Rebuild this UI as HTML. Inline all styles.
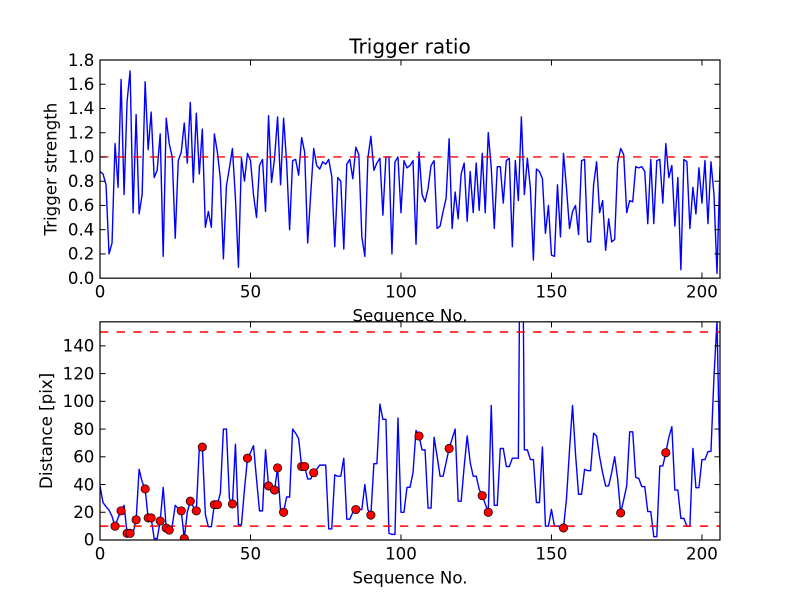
<!DOCTYPE html>
<html>
<head>
<meta charset="utf-8">
<style>
html,body{margin:0;padding:0;background:#fff;}
svg{display:block;}
text{font-family:"DejaVu Sans","Liberation Sans",sans-serif;fill:#000;}
.tl{font-size:16.67px;}
</style>
</head>
<body>
<svg width="800" height="600" viewBox="0 0 800 600" xmlns="http://www.w3.org/2000/svg">
<defs>
<clipPath id="c1"><rect x="100" y="60" width="620" height="218.18"/></clipPath>
<clipPath id="c2"><rect x="100" y="321.82" width="620" height="218.18"/></clipPath>
</defs>
<rect x="0" y="0" width="800" height="600" fill="#fff"/>

<!-- ===== TOP AXES ===== -->
<text x="410" y="53.3" font-size="20" text-anchor="middle">Trigger ratio</text>
<rect x="100" y="60" width="620" height="218.18" fill="#fff"/>
<g clip-path="url(#c1)">
<g transform="translate(100,278.18) scale(3.00971,-121.21)">
<polyline fill="none" stroke="#0000ff" stroke-width="1.4" vector-effect="non-scaling-stroke" stroke-linejoin="round" points="0,0.88 1,0.86 2,0.77 3,0.20 4,0.29 5,1.11 6,0.75 7,1.64 8,0.69 9,1.46 10,1.71 11,0.54 12,1.35 13,0.53 14,0.69 15,1.62 16,1.06 17,1.37 18,0.83 19,0.89 20,1.19 21,0.18 22,1.32 23,1.11 24,1.00 25,0.33 26,0.97 27,1.04 28,1.28 29,0.95 30,1.45 31,0.79 32,1.36 33,0.86 34,1.23 35,0.42 36,0.55 37,0.42 38,1.19 39,1.04 40,0.82 41,0.16 42,0.76 43,0.91 44,1.07 45,0.66 46,0.09 47,0.99 48,0.80 49,1.03 50,0.97 51,0.69 52,0.50 53,0.93 54,0.98 55,0.55 56,1.34 57,0.79 58,0.99 59,1.33 60,0.77 61,1.32 62,0.96 63,0.40 64,0.97 65,0.98 66,0.85 67,1.16 68,1.04 69,0.29 70,0.69 71,1.07 72,0.93 73,0.90 74,0.96 75,0.94 76,0.98 77,0.84 78,0.26 79,0.83 80,0.80 81,0.24 82,0.94 83,0.98 84,0.82 85,1.08 86,1.02 87,0.34 88,0.18 89,0.99 90,1.17 91,0.89 92,0.95 93,0.99 94,0.52 95,1.00 96,1.00 97,0.20 98,0.96 99,1.00 100,0.54 101,0.97 102,0.91 103,0.93 104,0.97 105,0.28 106,1.04 107,0.69 108,0.63 109,0.74 110,0.93 111,0.97 112,0.41 113,0.43 114,0.55 115,0.66 116,1.15 117,0.41 118,0.71 119,0.49 120,0.86 121,0.95 122,0.47 123,0.88 124,0.54 125,0.95 126,0.56 127,1.03 128,0.54 129,1.20 130,0.91 131,0.41 132,0.92 133,0.92 134,0.62 135,0.97 136,0.99 137,0.26 138,0.97 139,0.64 140,1.33 141,0.69 142,0.99 143,0.74 144,0.15 145,0.90 146,0.88 147,0.82 148,0.37 149,0.60 150,0.19 151,0.18 152,0.77 153,0.34 154,1.03 155,0.74 156,0.41 157,0.55 158,0.60 159,0.36 160,0.97 161,0.98 162,0.30 163,0.30 164,0.77 165,0.96 166,0.54 167,0.64 168,0.23 169,0.49 170,0.30 171,0.32 172,0.95 173,1.07 174,1.02 175,0.54 176,0.64 177,0.63 178,0.92 179,0.91 180,0.92 181,0.88 182,0.45 183,0.98 184,0.45 185,0.97 186,0.98 187,0.62 188,1.11 189,0.83 190,0.93 191,0.43 192,0.83 193,0.07 194,0.98 195,0.96 196,0.41 197,0.75 198,0.53 199,0.91 200,0.62 201,0.97 202,0.45 203,0.96 204,0.69 205,0.04 206,0.92"/>
</g>
<line x1="100" y1="156.97" x2="720" y2="156.97" stroke="#ff0000" stroke-width="1.4" stroke-dasharray="8.33 8.33"/>
</g>
<!-- top ticks -->
<g stroke="#000" stroke-width="1">
<line x1="100" y1="278.18" x2="100" y2="272.6"/><line x1="250.49" y1="278.18" x2="250.49" y2="272.6"/><line x1="400.97" y1="278.18" x2="400.97" y2="272.6"/><line x1="551.46" y1="278.18" x2="551.46" y2="272.6"/><line x1="701.94" y1="278.18" x2="701.94" y2="272.6"/>
<line x1="100" y1="60" x2="100" y2="65.56"/><line x1="250.49" y1="60" x2="250.49" y2="65.56"/><line x1="400.97" y1="60" x2="400.97" y2="65.56"/><line x1="551.46" y1="60" x2="551.46" y2="65.56"/><line x1="701.94" y1="60" x2="701.94" y2="65.56"/>
<line x1="100" y1="253.94" x2="105.56" y2="253.94"/><line x1="100" y1="229.70" x2="105.56" y2="229.70"/><line x1="100" y1="205.45" x2="105.56" y2="205.45"/><line x1="100" y1="181.21" x2="105.56" y2="181.21"/><line x1="100" y1="156.97" x2="105.56" y2="156.97"/><line x1="100" y1="132.73" x2="105.56" y2="132.73"/><line x1="100" y1="108.48" x2="105.56" y2="108.48"/><line x1="100" y1="84.24" x2="105.56" y2="84.24"/>
<line x1="720" y1="253.94" x2="714.44" y2="253.94"/><line x1="720" y1="229.70" x2="714.44" y2="229.70"/><line x1="720" y1="205.45" x2="714.44" y2="205.45"/><line x1="720" y1="181.21" x2="714.44" y2="181.21"/><line x1="720" y1="156.97" x2="714.44" y2="156.97"/><line x1="720" y1="132.73" x2="714.44" y2="132.73"/><line x1="720" y1="108.48" x2="714.44" y2="108.48"/><line x1="720" y1="84.24" x2="714.44" y2="84.24"/>
</g>
<rect x="100" y="60" width="620" height="218.18" fill="none" stroke="#000" stroke-width="1.2"/>
<g class="tl" text-anchor="end">
<text x="94.4" y="65.8">1.8</text><text x="94.4" y="90.0">1.6</text><text x="94.4" y="114.2">1.4</text><text x="94.4" y="138.5">1.2</text><text x="94.4" y="162.7">1.0</text><text x="94.4" y="187.0">0.8</text><text x="94.4" y="211.2">0.6</text><text x="94.4" y="235.4">0.4</text><text x="94.4" y="259.7">0.2</text><text x="94.4" y="283.9">0.0</text>
</g>
<g class="tl" text-anchor="middle">
<text x="100" y="297.5">0</text><text x="250.49" y="297.5">50</text><text x="400.97" y="297.5">100</text><text x="551.46" y="297.5">150</text><text x="701.94" y="297.5">200</text>
</g>
<text class="tl" x="410" y="321.7" text-anchor="middle">Sequence No.</text>
<text class="tl" transform="translate(56.5,169.1) rotate(-90)" text-anchor="middle">Trigger strength</text>

<!-- ===== BOTTOM AXES ===== -->
<rect x="100" y="321.82" width="620" height="218.18" fill="#fff"/>
<g clip-path="url(#c2)">
<g transform="translate(100,540) scale(3.00971,-1.3867)">
<polyline fill="none" stroke="#0000ff" stroke-width="1.4" vector-effect="non-scaling-stroke" stroke-linejoin="round" points="0,39 1,27 2,24 3,21.5 4,17 5,10 6,16 7,21 8,25 9,4.8 10,4.8 11,5 12,14.6 13,51 14,42 15,36.8 16,15.9 17,15.9 18,1 19,1 20,13.7 21,38 22,8.6 23,7.2 24,10 25,25 26,22.6 27,21 28,1 29,20 30,28 31,24 32,21 33,67 34,67 35,18.5 36,9.6 37,9.6 38,25.5 39,25.5 40,34 41,80 42,80 43,30 44,26 45,69 46,11 47,11 48,36.5 49,59 50,63 51,68 52,44 53,21 54,21 55,65 56,39 57,37 58,36 59,52 60,21 61,20 62,31 63,31 64,80 65,77 66,73 67,53 68,53 69,44 70,44 71,48.5 72,51 73,54 74,54 75,54 76,8 77,8 78,47 79,46 80,46 81,59 82,15 83,15 84,20 85,22 86,22 87,22 88,40 89,22 90,18 91,55 92,55 93,98 94,87 95,87 96,5 97,4 98,4 99,88 100,20 101,20 102,38 103,38 104,48.5 105,79 106,75 107,65 108,65 109,23 110,23 111,74 112,60.5 113,46 114,46 115,56 116,66 117,73 118,80 119,28 120,28 121,53 122,75 123,56 124,46 125,46 126,36.5 127,32 128,26 129,20 130,97 131,25 132,25 133,66 134,66 135,53 136,53 137,59 138,59 139,59 140,345 141,65 142,65 143,58 144,58 145,27 146,27 147,67 148,10 149,10 150,22 151,10 152,10 153,10 154,8.7 155,30 156,65 157,97 158,62 159,33 160,33 161,51 162,50 163,50 164,77 165,75 166,60 167,48.5 168,39 169,39 170,48.5 171,60 172,44 173,19.5 174,29 175,39 176,78 177,78 178,45 179,44.5 180,38.5 181,38.5 182,20.5 183,20.5 184,2.4 185,2.4 186,53.4 187,53.4 188,63 189,74 190,81.7 191,36 192,36 193,15.6 194,15.6 195,10 196,10 197,66 198,37.7 199,37.7 200,58 201,58 202,63.7 203,64 204,118 205,158 206,48.5"/>
</g>
<line x1="100" y1="526.13" x2="720" y2="526.13" stroke="#ff0000" stroke-width="1.4" stroke-dasharray="8.33 8.33"/>
<line x1="100" y1="332.0" x2="720" y2="332.0" stroke="#ff0000" stroke-width="1.4" stroke-dasharray="8.33 8.33"/>
<g fill="#ff0000" stroke="#000" stroke-width="0.7">
<circle cx="115.05" cy="526.13" r="4.2"/>
<circle cx="121.07" cy="510.88" r="4.2"/>
<circle cx="127.09" cy="533.34" r="4.2"/>
<circle cx="130.10" cy="533.34" r="4.2"/>
<circle cx="136.12" cy="519.75" r="4.2"/>
<circle cx="145.15" cy="488.97" r="4.2"/>
<circle cx="148.16" cy="517.95" r="4.2"/>
<circle cx="151.17" cy="517.95" r="4.2"/>
<circle cx="160.19" cy="521.00" r="4.2"/>
<circle cx="166.21" cy="528.07" r="4.2"/>
<circle cx="169.22" cy="530.02" r="4.2"/>
<circle cx="181.26" cy="510.88" r="4.2"/>
<circle cx="184.27" cy="538.61" r="4.2"/>
<circle cx="190.29" cy="501.17" r="4.2"/>
<circle cx="196.31" cy="510.88" r="4.2"/>
<circle cx="202.33" cy="447.09" r="4.2"/>
<circle cx="214.37" cy="504.64" r="4.2"/>
<circle cx="217.38" cy="504.64" r="4.2"/>
<circle cx="232.43" cy="503.95" r="4.2"/>
<circle cx="247.48" cy="458.18" r="4.2"/>
<circle cx="268.54" cy="485.92" r="4.2"/>
<circle cx="274.56" cy="490.08" r="4.2"/>
<circle cx="277.57" cy="467.89" r="4.2"/>
<circle cx="283.59" cy="512.27" r="4.2"/>
<circle cx="301.65" cy="466.50" r="4.2"/>
<circle cx="304.66" cy="466.50" r="4.2"/>
<circle cx="313.69" cy="472.75" r="4.2"/>
<circle cx="355.83" cy="509.49" r="4.2"/>
<circle cx="370.87" cy="515.04" r="4.2"/>
<circle cx="419.03" cy="435.99" r="4.2"/>
<circle cx="449.13" cy="448.48" r="4.2"/>
<circle cx="482.23" cy="495.63" r="4.2"/>
<circle cx="488.25" cy="512.27" r="4.2"/>
<circle cx="563.50" cy="527.94" r="4.2"/>
<circle cx="620.68" cy="512.96" r="4.2"/>
<circle cx="665.83" cy="452.64" r="4.2"/>
</g>
</g>
<!-- bottom ticks -->
<g stroke="#000" stroke-width="1">
<line x1="100" y1="540" x2="100" y2="534.44"/><line x1="250.49" y1="540" x2="250.49" y2="534.44"/><line x1="400.97" y1="540" x2="400.97" y2="534.44"/><line x1="551.46" y1="540" x2="551.46" y2="534.44"/><line x1="701.94" y1="540" x2="701.94" y2="534.44"/>
<line x1="100" y1="321.82" x2="100" y2="327.38"/><line x1="250.49" y1="321.82" x2="250.49" y2="327.38"/><line x1="400.97" y1="321.82" x2="400.97" y2="327.38"/><line x1="551.46" y1="321.82" x2="551.46" y2="327.38"/><line x1="701.94" y1="321.82" x2="701.94" y2="327.38"/>
<line x1="100" y1="512.27" x2="105.56" y2="512.27"/><line x1="100" y1="484.53" x2="105.56" y2="484.53"/><line x1="100" y1="456.80" x2="105.56" y2="456.80"/><line x1="100" y1="429.06" x2="105.56" y2="429.06"/><line x1="100" y1="401.33" x2="105.56" y2="401.33"/><line x1="100" y1="373.60" x2="105.56" y2="373.60"/><line x1="100" y1="345.86" x2="105.56" y2="345.86"/>
<line x1="720" y1="512.27" x2="714.44" y2="512.27"/><line x1="720" y1="484.53" x2="714.44" y2="484.53"/><line x1="720" y1="456.80" x2="714.44" y2="456.80"/><line x1="720" y1="429.06" x2="714.44" y2="429.06"/><line x1="720" y1="401.33" x2="714.44" y2="401.33"/><line x1="720" y1="373.60" x2="714.44" y2="373.60"/><line x1="720" y1="345.86" x2="714.44" y2="345.86"/>
</g>
<rect x="100" y="321.82" width="620" height="218.18" fill="none" stroke="#000" stroke-width="1.2"/>
<g class="tl" text-anchor="end">
<text x="94.4" y="351.6">140</text><text x="94.4" y="379.3">120</text><text x="94.4" y="407.1">100</text><text x="94.4" y="434.8">80</text><text x="94.4" y="462.5">60</text><text x="94.4" y="490.3">40</text><text x="94.4" y="518.0">20</text><text x="94.4" y="545.7">0</text>
</g>
<g class="tl" text-anchor="middle">
<text x="100" y="559.3">0</text><text x="250.49" y="559.3">50</text><text x="400.97" y="559.3">100</text><text x="551.46" y="559.3">150</text><text x="701.94" y="559.3">200</text>
</g>
<text class="tl" x="410" y="583.5" text-anchor="middle">Sequence No.</text>
<text class="tl" transform="translate(52,430.9) rotate(-90)" text-anchor="middle">Distance [pix]</text>
</svg>
</body>
</html>
